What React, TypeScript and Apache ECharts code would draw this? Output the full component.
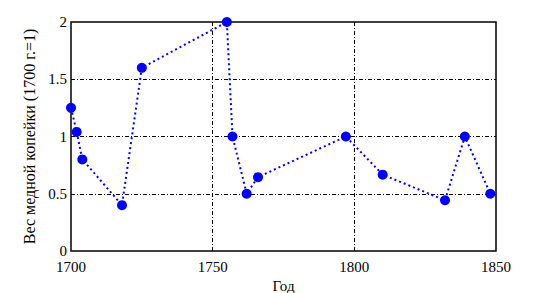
import React, { useEffect, useRef } from "react";
import * as echarts from "echarts";

const years = [1700, 1702, 1704, 1718, 1725, 1755, 1757, 1762, 1766, 1797, 1810, 1832, 1839, 1848];
const weights = [1.25, 1.04, 0.8, 0.4, 1.6, 2.0, 1.0, 0.5, 0.645, 1.0, 0.667, 0.443, 1.0, 0.5];
const xTicks = [1700, 1750, 1800, 1850];
const yTicks = [0, 0.5, 1, 1.5, 2];
const xName = "Год";
const yName = "Вес медной копейки (1700 г.=1)";

export default function App() {
  const ref = useRef<HTMLDivElement>(null);
  useEffect(() => {
    const chart = echarts.init(ref.current!, null, { renderer: "svg" });
    const font = "Liberation Serif";
    const gridLine = { show: true, lineStyle: { color: "#000", width: 1, type: [4, 2, 1, 2] as any } };
    chart.setOption({
      animation: false,
      backgroundColor: "#fff",
      textStyle: { fontFamily: font },
      grid: {
        left: 71, right: 53, top: 22, bottom: 42,
        outerBoundsMode: "none",
        containLabel: false,
        show: true, borderColor: "#000", borderWidth: 1.5, backgroundColor: "transparent",
      } as any,
      xAxis: {
        type: "value",
        min: xTicks[0],
        max: xTicks[xTicks.length - 1],
        interval: 50,
        name: xName,
        nameLocation: "middle",
        nameGap: 22,
        nameTextStyle: { fontFamily: font, fontSize: 15, color: "#000" },
        axisLine: { show: false },
        axisTick: { show: false },
        axisLabel: { fontFamily: font, fontSize: 15, color: "#000", margin: 8, formatter: (v: number) => String(v) },
        splitLine: { ...gridLine, showMinLine: false, showMaxLine: false },
      },
      yAxis: {
        type: "value",
        min: yTicks[0],
        max: yTicks[yTicks.length - 1],
        interval: 0.5,
        name: yName,
        nameLocation: "middle",
        nameGap: 32,
        nameTextStyle: { fontFamily: font, fontSize: 16, color: "#000" },
        axisLine: { show: false },
        axisTick: { show: false },
        axisLabel: { fontFamily: font, fontSize: 15, color: "#000", margin: 4, formatter: (v: number) => String(v) },
        splitLine: { ...gridLine, showMinLine: false, showMaxLine: false },
      },
      series: [
        {
          type: "line",
          data: years.map((y, i) => [y, weights[i]]),
          symbol: "circle",
          symbolSize: 10,
          itemStyle: { color: "#0000ff" },
          lineStyle: { color: "#0000ff", width: 2, type: [2, 3] as any },
          z: 5,
        },
      ],
    });
    return () => chart.dispose();
  }, []);
  return <div ref={ref} style={{ width: 549, height: 293, position: "absolute", left: 0, top: 0 }} />;
}
